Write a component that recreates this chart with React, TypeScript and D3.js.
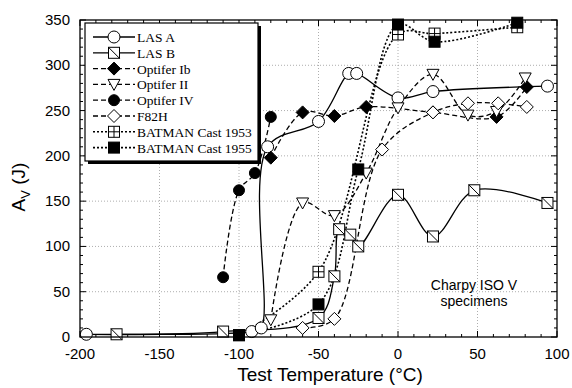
import React from 'react';
import * as d3 from 'd3';

// ---------- data ----------
const lasA_T = [-196, -92, -86, -82, -50, -31, -26, 0, 22, 94];
const lasA_A = [3, 6, 10, 210, 238, 291, 291, 264, 271, 277];

const lasB_T = [-177, -110, -50, -40, -37, -30, -25, 0, 22, 48, 94];
const lasB_A = [3, 6, 21, 67, 119, 113, 100, 157, 111, 162, 148];

const optIb_T = [-80, -60, -40, -20, 22, 62, 81];
const optIb_A = [198, 248, 244, 254, 248, 243, 276];

const optII_T = [-80, -60, -40, -20, 0, 22, 44, 62, 80];
const optII_A = [19, 148, 134, 181, 253, 290, 245, 249, 286];

const optIV_T = [-110, -100, -90, -80];
const optIV_A = [66, 162, 181, 243];

const f82h_T = [-60, -40, -10, 22, 44, 63, 81];
const f82h_A = [10, 20, 207, 248, 258, 258, 254];

const bat53_T = [-100, -50, 0, 23, 75];
const bat53_A = [2, 72, 334, 335, 342];

const bat55_T = [-100, -50, -25, 0, 23, 75];
const bat55_A = [2, 36, 185, 345, 326, 347];

const xTicks = [-200, -150, -100, -50, 0, 50, 100];
const yTicks = [0, 50, 100, 150, 200, 250, 300, 350];

const seriesNames = [
  'LAS A', 'LAS B', 'Optifer Ib', 'Optifer II', 'Optifer IV', 'F82H',
  'BATMAN Cast 1953', 'BATMAN Cast 1955',
];

// ---------- layout ----------
const W = 572, H = 388;
const x = d3.scaleLinear().domain([-200, 100]).range([80, 557]);
const y = d3.scaleLinear().domain([0, 350]).range([337, 20]);

type Mk = 'circleOpen' | 'squareDiag' | 'diamondFill' | 'triDownOpen' | 'circleFill' | 'diamondOpen' | 'squareCross' | 'squareFill';

const series: { name: string; T: number[]; A: number[]; dash: string; width: number; marker: Mk }[] = [
  { name: seriesNames[0], T: lasA_T, A: lasA_A, dash: '', width: 1.3, marker: 'circleOpen' },
  { name: seriesNames[1], T: lasB_T, A: lasB_A, dash: '', width: 1.3, marker: 'squareDiag' },
  { name: seriesNames[2], T: optIb_T, A: optIb_A, dash: '5,3', width: 1.3, marker: 'diamondFill' },
  { name: seriesNames[3], T: optII_T, A: optII_A, dash: '5,3', width: 1.3, marker: 'triDownOpen' },
  { name: seriesNames[4], T: optIV_T, A: optIV_A, dash: '5,3', width: 1.3, marker: 'circleFill' },
  { name: seriesNames[5], T: f82h_T, A: f82h_A, dash: '5,3', width: 1.3, marker: 'diamondOpen' },
  { name: seriesNames[6], T: bat53_T, A: bat53_A, dash: '2,2', width: 1.6, marker: 'squareCross' },
  { name: seriesNames[7], T: bat55_T, A: bat55_A, dash: '2,2', width: 1.6, marker: 'squareFill' },
];

function Marker({ type, cx, cy }: { type: Mk; cx: number; cy: number }) {
  const s = 5.5;
  const st = { stroke: '#000', strokeWidth: 1 } as const;
  switch (type) {
    case 'circleOpen':
      return <circle cx={cx} cy={cy} r={6} fill="#fff" {...st} />;
    case 'circleFill':
      return <circle cx={cx} cy={cy} r={5.5} fill="#000" {...st} />;
    case 'squareDiag':
      return (
        <g>
          <rect x={cx - s} y={cy - s} width={2 * s} height={2 * s} fill="#fff" {...st} />
          <line x1={cx - s} y1={cy - s} x2={cx + s} y2={cy + s} {...st} />
        </g>
      );
    case 'squareCross':
      return (
        <g>
          <rect x={cx - s} y={cy - s} width={2 * s} height={2 * s} fill="#fff" {...st} />
          <line x1={cx - s} y1={cy} x2={cx + s} y2={cy} {...st} />
          <line x1={cx} y1={cy - s} x2={cx} y2={cy + s} {...st} />
        </g>
      );
    case 'squareFill':
      return <rect x={cx - s} y={cy - s} width={2 * s} height={2 * s} fill="#000" {...st} />;
    case 'diamondFill':
      return <path d={`M${cx},${cy - 6.5}L${cx + 6.5},${cy}L${cx},${cy + 6.5}L${cx - 6.5},${cy}Z`} fill="#000" {...st} />;
    case 'diamondOpen':
      return <path d={`M${cx},${cy - 6.5}L${cx + 6.5},${cy}L${cx},${cy + 6.5}L${cx - 6.5},${cy}Z`} fill="#fff" {...st} />;
    case 'triDownOpen':
      return <path d={`M${cx - 6},${cy - 5}L${cx + 6},${cy - 5}L${cx},${cy + 6}Z`} fill="#fff" {...st} />;
  }
}

export default function App() {
  const line = d3
    .line<[number, number]>()
    .x((d) => x(d[0]))
    .y((d) => y(d[1]))
    .curve(d3.curveCatmullRom.alpha(0.5));

  const [x0, x1] = x.range();
  const [y0, y1] = y.range(); // y0 bottom, y1 top
  const minorX = d3.range(-200, 101, 10);
  const minorY = d3.range(0, 351, 10);
  const font = '"Liberation Sans", Arial, Helvetica, sans-serif';
  const serif = '"Liberation Serif", "Times New Roman", serif';

  const legX = 85, legY = 23, legW = 173, legH = 138;
  const rowY = (i: number) => 37 + i * 15.8;

  return (
    <svg width={W} height={H} style={{ position: 'absolute', left: 0, top: 0, background: '#fff' }}>
      <rect x={0} y={0} width={W} height={H} fill="#fff" />
      {/* grid */}
      {xTicks.filter((t) => t > -200 && t < 100).map((t) => (
        <line key={'gx' + t} x1={x(t)} x2={x(t)} y1={y1} y2={y0} stroke="#999" strokeWidth={0.8} strokeDasharray="1,2" />
      ))}
      {yTicks.filter((t) => t > 0 && t < 350).map((t) => (
        <line key={'gy' + t} x1={x0} x2={x1} y1={y(t)} y2={y(t)} stroke="#999" strokeWidth={0.8} strokeDasharray="1,2" />
      ))}
      {/* minor / major ticks */}
      {minorX.map((t) => {
        const len = t % 50 === 0 ? 6 : 3;
        return (
          <g key={'tx' + t}>
            <line x1={x(t)} x2={x(t)} y1={y0} y2={y0 - len} stroke="#000" />
            <line x1={x(t)} x2={x(t)} y1={y1} y2={y1 + len} stroke="#000" />
          </g>
        );
      })}
      {minorY.map((t) => {
        const len = t % 50 === 0 ? 6 : 3;
        return (
          <g key={'ty' + t}>
            <line x1={x0} x2={x0 + len} y1={y(t)} y2={y(t)} stroke="#000" />
            <line x1={x1} x2={x1 - len} y1={y(t)} y2={y(t)} stroke="#000" />
          </g>
        );
      })}
      {/* lines */}
      {series.map((s) => (
        <path
          key={'l' + s.name}
          d={line(s.T.map((t, i) => [t, s.A[i]] as [number, number])) || ''}
          fill="none"
          stroke="#000"
          strokeWidth={s.width}
          strokeDasharray={s.dash || undefined}
        />
      ))}
      {/* markers */}
      {series.map((s) =>
        s.T.map((t, i) => <Marker key={s.name + i} type={s.marker} cx={x(t)} cy={y(s.A[i])} />)
      )}
      {/* frame */}
      <rect x={x0} y={y1} width={x1 - x0} height={y0 - y1} fill="none" stroke="#000" strokeWidth={1.3} />
      {/* tick labels */}
      {xTicks.map((t) => (
        <text key={'lx' + t} x={x(t)} y={359} textAnchor="middle" fontFamily={font} fontSize={15}>
          {t}
        </text>
      ))}
      {yTicks.map((t) => (
        <text key={'ly' + t} x={70} y={y(t) + 5} textAnchor="end" fontFamily={font} fontSize={15}>
          {t}
        </text>
      ))}
      {/* axis titles */}
      <text x={330} y={381} textAnchor="middle" fontFamily={font} fontSize={19}>
        Test Temperature (°C)
      </text>
      <text transform="translate(25,187) rotate(-90)" textAnchor="middle" fontFamily={font} fontSize={19}>
        A<tspan fontSize={13} dy={5}>V</tspan>
        <tspan dy={-5}> (J)</tspan>
      </text>
      {/* annotation */}
      <text x={474} y={290} textAnchor="middle" fontFamily={font} fontSize={14}>
        Charpy ISO V
      </text>
      <text x={474} y={306} textAnchor="middle" fontFamily={font} fontSize={14}>
        specimens
      </text>
      {/* legend */}
      <rect x={legX + 3} y={legY + 3} width={legW} height={legH} fill="#000" />
      <rect x={legX} y={legY} width={legW} height={legH} fill="#fff" stroke="#000" strokeWidth={1.2} />
      {series.map((s, i) => (
        <g key={'lg' + s.name}>
          <line
            x1={93}
            x2={135}
            y1={rowY(i)}
            y2={rowY(i)}
            stroke="#000"
            strokeWidth={s.width}
            strokeDasharray={s.dash || undefined}
          />
          <Marker type={s.marker} cx={114} cy={rowY(i)} />
          <text x={137} y={rowY(i) + 5} fontFamily={serif} fontSize={13.5}>
            {s.name}
          </text>
        </g>
      ))}
    </svg>
  );
}
